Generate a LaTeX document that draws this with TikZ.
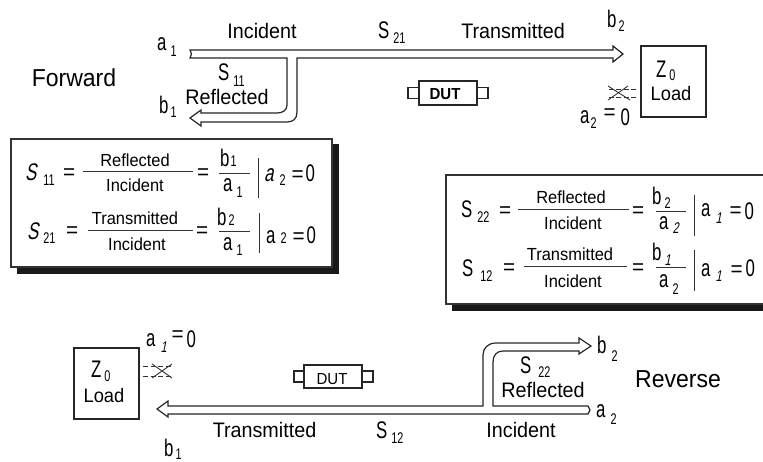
\documentclass[tikz,border=0pt]{standalone}
\usepackage{fontspec}
\setmainfont[FakeStretch=0.94]{Liberation Sans}
\newfontfamily\nar[FakeStretch=0.7]{Liberation Sans}
\newfontfamily\narit[FakeStretch=0.7,FakeSlant=0.2]{Liberation Sans}
\newcommand{\subr}[2]{\raisebox{-#1pt}{\fontsize{15.5}{16}\selectfont\nar #2}}
\newcommand{\subit}[2]{\raisebox{-#1pt}{\fontsize{15.5}{16}\selectfont\narit #2}}
\newcommand{\eqs}{{\fontsize{22}{22}\selectfont\rmfamily =}}
\tikzset{
  txt/.style={inner sep=0pt,font=\fontsize{21}{22}\selectfont,anchor=base},
  tl/.style={inner sep=0pt,font=\fontsize{24}{26}\selectfont\nar,anchor=base west},
  frc/.style={inner sep=0pt,font=\fontsize{17.5}{19}\selectfont,anchor=base},
  big/.style={inner sep=0pt,font=\fontsize{24.5}{26}\selectfont,anchor=base},
  pipe/.style={draw=black!85,line width=1.2pt,fill=white,line join=miter},
  shadowbox/.style={fill=black!90,draw=none},
  framebox/.style={draw=black!80,line width=1.2pt,fill=white},
  loadbox/.style={draw=black!85,line width=1.4pt,fill=white},
  dutbody/.style={draw=black!85,line width=1.4pt,fill=white},
  rule/.style={draw=black!80,line width=1pt},
  dashline/.style={draw=black!80,line width=0.9pt,dash pattern=on 5pt off 2.5pt},
  xline/.style={draw=black!80,line width=0.9pt}
}
\begin{document}
\begin{tikzpicture}[x=1pt,y=-1pt]
\useasboundingbox (0,0) rectangle (763,462);
% forward pipes
\path[pipe] (190,50) -- (613,50) -- (613,46) -- (623,54) -- (613,62) -- (613,58) -- (297,58) -- (297,112)
  .. controls (297,119) and (293,122) .. (287,122) -- (201,122) -- (201,126) -- (190,118) -- (201,110) -- (201,113) -- (277,113)
  .. controls (283,113) and (287,110) .. (287,105) -- (287,58) -- (190,58) -- (191.5,54) -- cycle;
% forward labels
\node[big] (fwd) at (74,87) {Forward};
\node[tl] (a1) at (157,51) {a\hspace{4pt}\subr{6}{1}};
\node[txt] (inc1) at (262,39) {Incident};
\node[tl] (s21t) at (378,39) {S\hspace{4pt}\subr{5}{21}};
\node[txt] (tr1) at (513,39) {Transmitted};
\node[tl] (b2t) at (607,28) {b\hspace{2pt}\subr{4}{2}};
\node[tl] (s11t) at (218,81) {S\hspace{4pt}\subr{6}{11}};
\node[txt] (refl1) at (227,105) {Reflected};
\node[tl] (b1t) at (159,114) {b\hspace{2pt}\subr{4}{1}};
% load top
\node[loadbox,minimum width=65pt,minimum height=71pt] (load1) at (673.5,81.5) {};
\node[tl] (z1) at (656,78) {\fontsize{24}{24}\selectfont Z\hspace{3pt}\subr{3}{0}};
\node[txt,font=\fontsize{19.5}{22}\selectfont] (l1) at (671,101) {Load};
\node[tl] (a2t) at (580,124) {a\hspace{1pt}\subr{5}{2}\hspace{7pt}\raisebox{4pt}{\eqs}\hspace{5pt}\raisebox{-2pt}{0}};
% x mark top
\coordinate (xa) at (636,89); \coordinate (xb) at (636,97);
\draw[dashline] (xa) -- (607,89);
\draw[dashline] (xb) -- (607,97);
\draw[xline] (608,86) -- (630,100);
\draw[xline] (608,100) -- (628,86);
% DUT top
\node[dutbody,minimum width=11pt,minimum height=11pt] (t1) at (413.5,93) {};
\node[dutbody,minimum width=11pt,minimum height=11pt] (t2) at (482.5,93) {};
\node[dutbody,minimum width=58pt,minimum height=24pt] (dut1) at (448,93) {};
\node[frc,font=\fontsize{16}{18}\selectfont\bfseries] (dutl1) at (445,100) {DUT};
% box left
\path[shadowbox] (17,144) rectangle (339,274);
\node[framebox,minimum width=321pt,minimum height=128pt] (box1) at (171.5,203) {};
\node[tl] (q1s) at (25,181) {\narit S\hspace{7pt}\subr{5}{11}};
\node[tl] (q1e) at (63,180) {\eqs};
\node[frc] (q1n) at (135,167) {Reflected};
\draw[rule] (83,172) -- (193,172);
\node[frc] (q1d) at (135,192) {Incident};
\node[tl] (q1f) at (197,180) {\eqs};
\node[tl] (q1b) at (220,167) {b\hspace{1pt}\subr{0}{1}};
\draw[rule] (219,174) -- (250,174);
\node[tl] (q1a) at (223,192) {a\hspace{4pt}\subr{6}{1}};
\draw[rule] (258,158) -- (258,198);
\node[tl] (q1c) at (264,182) {\narit a\hspace{6pt}\subr{4}{2}\hspace{6pt}\rmfamily\eqs\hspace{2pt}\nar 0};
\node[tl] (q2s) at (27,240) {\narit S\hspace{5pt}\subr{4}{21}};
\node[tl] (q2e) at (66,238) {\eqs};
\node[frc] (q2n) at (135,225) {Transmitted};
\draw[rule] (88,231) -- (193,231);
\node[frc] (q2d) at (137,251) {Incident};
\node[tl] (q2f) at (196,238) {\eqs};
\node[tl] (q2b) at (217,226) {b\hspace{2pt}\subr{0}{2}};
\draw[rule] (219,232) -- (250,232);
\node[tl] (q2a) at (223,251) {a\hspace{4pt}\subr{5}{1}};
\draw[rule] (259,213) -- (259,253);
\node[tl] (q2c) at (266,244) {a\hspace{5pt}\subr{0}{2}\hspace{6pt}\rmfamily\eqs\hspace{2pt}\nar 0};
% box right
\path[shadowbox] (452,180) rectangle (763,311);
\path[fill=white] (446,175) rectangle (763,304);
\path[framebox,fill=none] (763,175) -- (446,175) -- (446,304) -- (763,304);
\node[tl] (q3s) at (461,218) {S\hspace{5pt}\subr{5}{22}};
\node[tl] (q3e) at (499,218) {\eqs};
\node[frc] (q3n) at (571,204) {Reflected};
\draw[rule] (518,210) -- (629,210);
\node[frc] (q3d) at (573,230) {Incident};
\node[tl] (q3f) at (632,218) {\eqs};
\node[tl] (q3b) at (652,205) {b\hspace{3pt}\subr{4}{2}};
\draw[rule] (656,212) -- (686,212);
\node[tl] (q3a) at (659,230) {a\hspace{4pt}\subit{4}{2}};
\draw[rule] (694,195) -- (694,236);
\node[tl] (q3c) at (701,217) {a\hspace{5pt}\subit{7}{1}\hspace{8pt}\rmfamily\raisebox{-1pt}{\eqs}\hspace{3pt}\raisebox{-3pt}{\nar 0}};
\node[tl] (q4s) at (462,277) {S\hspace{7pt}\subr{5}{12}};
\node[tl] (q4e) at (503,275) {\eqs};
\node[frc] (q4n) at (570,261) {Transmitted};
\draw[rule] (524,267) -- (627,267);
\node[frc] (q4d) at (573,288) {Incident};
\node[tl] (q4f) at (632,275) {\eqs};
\node[tl] (q4b) at (652,261) {b\hspace{3pt}\subit{5}{1}};
\draw[rule] (656,268) -- (686,268);
\node[tl] (q4a) at (659,288) {a\hspace{4pt}\subr{6}{2}};
\draw[rule] (694,250) -- (694,291);
\node[tl] (q4c) at (701,277) {a\hspace{5pt}\subit{5}{1}\hspace{9pt}\rmfamily\eqs\hspace{3pt}\nar 0};
% bottom pipes
\path[pipe] (588,406) -- (493,406) -- (493,362) .. controls (493,355) and (497,351) .. (503,351) -- (579,351) -- (579,354) -- (591,346) -- (579,338) -- (579,343) -- (496,343)
  .. controls (488,343) and (483,348) .. (483,355) -- (483,406) -- (168,406) -- (168,401) -- (157,409) -- (168,417) -- (168,414) -- (588,414) -- (590,410) -- cycle;
\node[tl] (a2b) at (596,417) {a\hspace{5pt}\subr{7}{2}};
\node[tl] (b2b) at (597,353) {b\hspace{5pt}\subr{8}{2}};
\node[tl] (s22b) at (520,373) {S\hspace{7pt}\subr{4}{22}};
\node[txt] (refl2) at (543,397) {Reflected};
\node[big] (rev) at (678,387) {Reverse};
\node[txt] (inc2) at (521,437) {Incident};
\node[tl] (s12b) at (376,438) {S\hspace{4pt}\subr{5}{12}};
\node[txt] (tr2) at (264.5,437) {Transmitted};
\node[tl] (b1b) at (164,456) {b\hspace{2pt}\subr{3}{1}};
% load bottom
\node[loadbox,minimum width=65pt,minimum height=71pt] (load2) at (106.5,383.5) {};
\node[tl] (z2) at (91,377) {\fontsize{24}{24}\selectfont Z\hspace{3pt}\subr{5}{0}};
\node[txt,font=\fontsize{19.5}{22}\selectfont] (l2) at (104,402) {Load};
\node[tl] (a1b) at (146,346) {a\hspace{5pt}\subit{6}{1}\hspace{5pt}\raisebox{5pt}{\eqs}\hspace{3pt}\raisebox{-1pt}{0}};
% x mark bottom
\coordinate (xc) at (143,366); \coordinate (xd) at (143,376);
\draw[dashline] (xc) -- (173,366);
\draw[dashline] (xd) -- (173,376);
\draw[xline] (152,364) -- (172,378);
\draw[xline] (152,378) -- (172,364);
% DUT bottom
\node[dutbody,minimum width=11pt,minimum height=11pt] (t3) at (299.5,376.5) {};
\node[dutbody,minimum width=11pt,minimum height=11pt] (t4) at (367.5,376.5) {};
\node[dutbody,minimum width=58pt,minimum height=23pt] (dut2) at (333,376.5) {};
\node[frc,font=\fontsize{16}{18}\selectfont] (dutl2) at (332,384) {DUT};
\end{tikzpicture}
\end{document}
